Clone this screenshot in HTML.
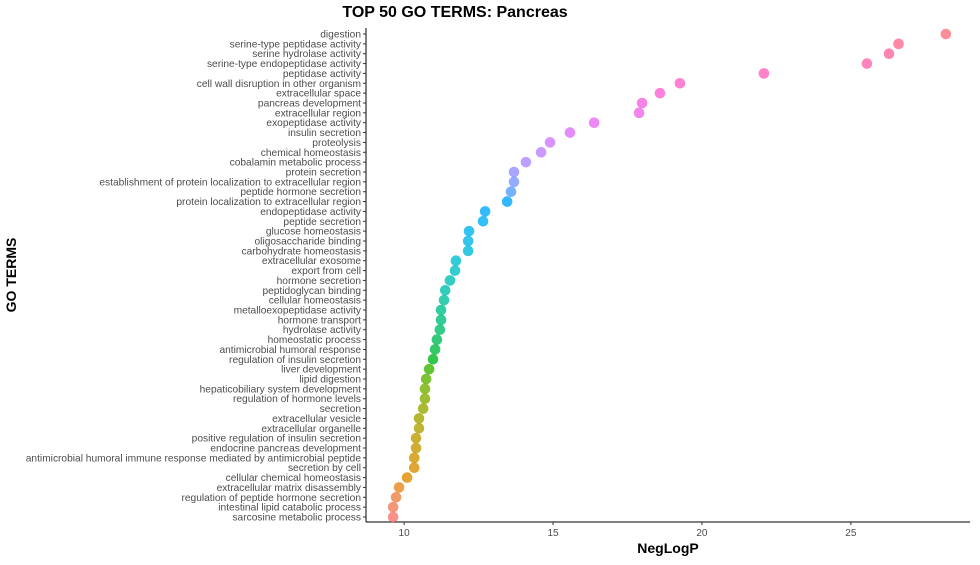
<!DOCTYPE html>
<html><head><meta charset="utf-8"><style>
body{margin:0;background:#fff;font-family:"Liberation Sans",sans-serif;}
</style></head><body>
<svg id="chart" width="980" height="560" xmlns="http://www.w3.org/2000/svg" font-family="Liberation Sans, sans-serif">
<text x="455" y="17" font-size="16" font-weight="bold" text-anchor="middle" fill="#000">TOP 50 GO TERMS: Pancreas</text>
<text transform="translate(16,275) rotate(-90)" font-size="14" font-weight="bold" text-anchor="middle">GO TERMS</text>
<text x="668" y="553" font-size="14" font-weight="bold" text-anchor="middle">NegLogP</text>
<g id="plot"></g>
</svg>
<script>
const terms=["digestion","serine-type peptidase activity","serine hydrolase activity","serine-type endopeptidase activity","peptidase activity","cell wall disruption in other organism","extracellular space","pancreas development","extracellular region","exopeptidase activity","insulin secretion","proteolysis","chemical homeostasis","cobalamin metabolic process","protein secretion","establishment of protein localization to extracellular region","peptide hormone secretion","protein localization to extracellular region","endopeptidase activity","peptide secretion","glucose homeostasis","oligosaccharide binding","carbohydrate homeostasis","extracellular exosome","export from cell","hormone secretion","peptidoglycan binding","cellular homeostasis","metalloexopeptidase activity","hormone transport","hydrolase activity","homeostatic process","antimicrobial humoral response","regulation of insulin secretion","liver development","lipid digestion","hepaticobiliary system development","regulation of hormone levels","secretion","extracellular vesicle","extracellular organelle","positive regulation of insulin secretion","endocrine pancreas development","antimicrobial humoral immune response mediated by antimicrobial peptide","secretion by cell","cellular chemical homeostasis","extracellular matrix disassembly","regulation of peptide hormone secretion","intestinal lipid catabolic process","sarcosine metabolic process"];
const values=[28.19,26.6,26.28,25.54,22.08,19.26,18.59,17.99,17.89,16.38,15.57,14.9,14.6,14.09,13.69,13.69,13.59,13.46,12.72,12.65,12.18,12.15,12.15,11.74,11.71,11.54,11.38,11.34,11.24,11.24,11.2,11.1,11.04,10.97,10.84,10.74,10.7,10.7,10.64,10.5,10.5,10.4,10.4,10.34,10.34,10.1,9.83,9.73,9.63,9.63];
const xTicks=[10,15,20,25];
const NS="http://www.w3.org/2000/svg";
const X0=366,X1=970,Y0=28,Y1=522;
const xMin=8.72,xMax=29.0;
const xs=v=>X0+(v-xMin)/(xMax-xMin)*(X1-X0);
const ys=i=>34+i*(517-34)/(terms.length-1);
function hcl(h,c,l){const hr=h*Math.PI/180;const L=l,U=c*Math.cos(hr),V=c*Math.sin(hr);
const un=0.19783,vn=0.46832;const Y=L>8?Math.pow((L+16)/116,3):L/903.3;
const u=U/(13*L)+un,v=V/(13*L)+vn;const X=9*Y*u/(4*v),Z=(12-3*u-20*v)*Y/(4*v);
let r=3.2406*X-1.5372*Y-0.4986*Z,g=-0.9689*X+1.8758*Y+0.0415*Z,b=0.0557*X-0.2040*Y+1.0570*Z;
const f=x=>{x=x<=0.0031308?12.92*x:1.055*Math.pow(x,1/2.4)-0.055;return Math.round(Math.max(0,Math.min(1,x))*255);};
return `rgb(${f(r)},${f(g)},${f(b)})`;}
const g=document.getElementById('plot');
function el(t,a){const e=document.createElementNS(NS,t);for(const k in a)e.setAttribute(k,a[k]);g.appendChild(e);return e;}
let ax=el('line',{x1:X0,y1:Y0,x2:X0,y2:Y1,stroke:'#000','stroke-width':1});


ax=el('line',{x1:X0,y1:Y1,x2:X1,y2:Y1,stroke:'#000','stroke-width':1});


xTicks.forEach(t=>{const x=xs(t);
let l=el('line',{x1:x,y1:Y1,x2:x,y2:Y1+3,stroke:'#333'});


let tx=el('text',{x:x,y:Y1+14,'font-size':10,'text-anchor':'middle',fill:'#4d4d4d'});tx.textContent=t;

});
const n=terms.length;
terms.forEach((t,i)=>{const y=ys(i);
let l=el('line',{x1:X0-3,y1:y,x2:X0,y2:y,stroke:'#333'});


let tx=el('text',{x:X0-5,y:y+3.5,'font-size':10.2,'text-anchor':'end',fill:'#4d4d4d'});tx.textContent=t;


const k=n-1-i;const h=15+360*k/n;
let c=el('circle',{cx:xs(values[i]),cy:y,r:5.3,fill:hcl(h,100,65),'fill-opacity':0.8});

});
</script>
</body></html>
